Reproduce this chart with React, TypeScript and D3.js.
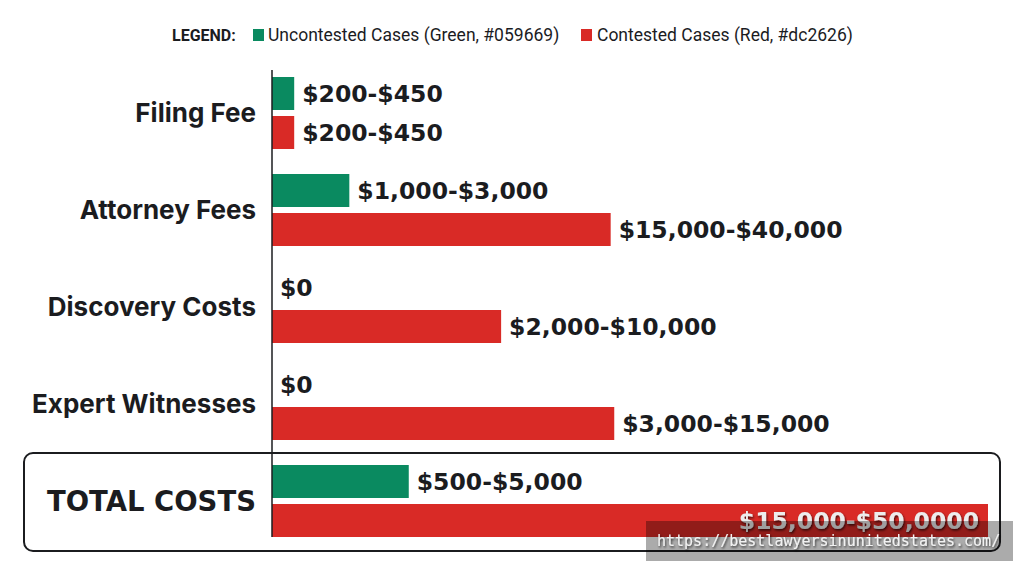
import * as d3 from "d3";
import React from "react";

const width = 1024;
const height = 572;

const categories = ["Filing Fee", "Attorney Fees", "Discovery Costs", "Expert Witnesses", "TOTAL COSTS"];
const seriesKeys = ["uncontested", "contested"];
// bar lengths as drawn in the graphic (relative units, total contested = 100)
const uncontestedLength = [3.1, 10.8, 0, 0, 19.1];
const contestedLength = [3.1, 47.3, 32.0, 47.8, 100];
const uncontestedLabels = ["$200-$450", "$1,000-$3,000", "$0", "$0", "$500-$5,000"];
const contestedLabels = ["$200-$450", "$15,000-$40,000", "$2,000-$10,000", "$3,000-$15,000", "$15,000-$50,0000"];

const green = "#0a8a60";
const red = "#d92a26";
const ink = "#1b1c1f";
const valueFont = "'DejaVu Sans', sans-serif";
const labelFont = "Inter, 'Noto Sans', sans-serif";

const x = d3.scaleLinear().domain([0, 100]).range([272, 988]);
const y = d3.scaleBand().domain(categories).range([64.5, 549.5]).paddingInner(25 / 97).paddingOuter(12.5 / 97);
const ySub = d3.scaleBand().domain(seriesKeys).range([0, y.bandwidth()]).paddingInner(6 / 39);

const rows = categories.map((c, i) => ({
  category: c,
  bars: [
    { key: "uncontested", len: uncontestedLength[i], label: uncontestedLabels[i], color: green },
    { key: "contested", len: contestedLength[i], label: contestedLabels[i], color: red },
  ],
}));

export default function App() {
  const totalBand = y("TOTAL COSTS")!;
  return (
    <svg width={width} height={height} style={{ position: "absolute", left: 0, top: 0, background: "#fff" }}>
      <defs>
        <filter id="shadow" x="-10%" y="-30%" width="120%" height="160%">
          <feDropShadow dx="1" dy="1.5" stdDeviation="1.2" floodColor="#000" floodOpacity="0.7" />
        </filter>
      </defs>
      <rect width={width} height={height} fill="#fff" />

      {/* legend */}
      <g fontFamily="Roboto, sans-serif" fontSize={17.5} fill={ink}>
        <text x={172} y={41} fontWeight={700} fontSize={16}>LEGEND:</text>
        <rect x={253} y={29} width={11} height={12} fill={green} />
        <text x={268} y={41}>Uncontested Cases (Green, #059669)</text>
        <rect x={581} y={29} width={11} height={12} fill={red} />
        <text x={597} y={41}>Contested Cases (Red, #dc2626)</text>
      </g>

      {/* total box */}
      <rect x={24} y={453} width={976} height={98} rx={9} fill="none" stroke={ink} strokeWidth={2} />

      {rows.map((row) => {
        const y0 = y(row.category)!;
        const isTotal = row.category === "TOTAL COSTS";
        return (
          <g key={row.category}>
            <text
              x={256}
              y={y0 + y.bandwidth() / 2}
              dy="0.36em"
              textAnchor="end"
              fontFamily={isTotal ? valueFont : labelFont}
              fontWeight={isTotal ? 800 : 700}
              fontSize={isTotal ? 27.5 : 26}
              fill={ink}
            >
              {row.category}
            </text>
            {row.bars.map((b) => {
              const by = y0 + ySub(b.key)!;
              const inside = isTotal && b.key === "contested";
              return (
                <g key={b.key}>
                  <rect x={x(0)} y={by} width={x(b.len) - x(0)} height={ySub.bandwidth()} fill={b.color} />
                  <text
                    x={inside ? x(b.len) - 9 : x(b.len) + 8}
                    y={by + ySub.bandwidth() / 2}
                    dy="0.36em"
                    textAnchor={inside ? "end" : "start"}
                    fontFamily={valueFont}
                    fontWeight={700}
                    fontSize={23.5}
                    fill={inside ? "#ededed" : ink}
                    filter={inside ? "url(#shadow)" : undefined}
                  >
                    {b.label}
                  </text>
                </g>
              );
            })}
          </g>
        );
      })}

      {/* axis line */}
      <line x1={x(0)} x2={x(0)} y1={70} y2={totalBand + y.bandwidth()} stroke={ink} strokeWidth={1.5} />

      {/* watermark */}
      <rect x={646} y={521} width={367} height={40} fill="#000" fillOpacity={0.33} />
      <text x={657} y={546} fontFamily="'DejaVu Sans Mono', monospace" fontSize={15} fill="#f2f2f2" filter="url(#shadow)">
        https://bestlawyersinunitedstates.com/
      </text>
    </svg>
  );
}
